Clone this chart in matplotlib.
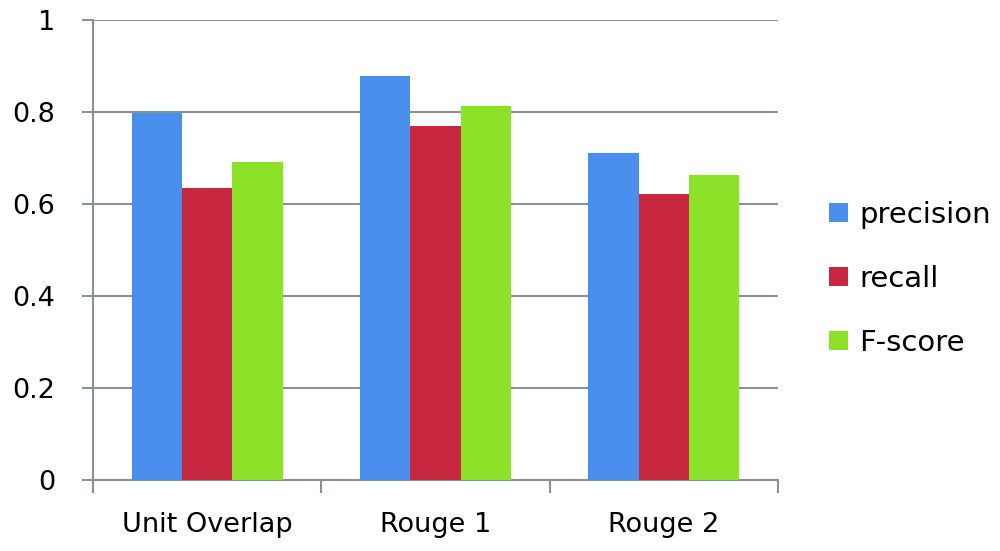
import matplotlib
matplotlib.use("Agg")
import matplotlib.pyplot as plt
import numpy as np
from matplotlib.patches import Patch

categories = ["Unit Overlap", "Rouge 1", "Rouge 2"]
series_names = ["precision", "recall", "F-score"]
precision = [0.798, 0.877, 0.710]
recall = [0.634, 0.770, 0.622]
fscore = [0.692, 0.812, 0.663]
yticks = [0, 0.2, 0.4, 0.6, 0.8, 1]
ytick_labels = ["0", "0.2", "0.4", "0.6", "0.8", "1"]

colors = ["#4A8FEE", "#C8283F", "#8CE228"]
grid_color = "#8A9393"

plt.rcParams['font.family'] = ['DejaVu Sans']

fig = plt.figure(figsize=(10, 5.51), dpi=100)
ax = fig.add_axes([0.093, 0.129, 0.685, 0.835])

x = np.arange(len(categories))
w = 0.22
for i, vals in enumerate([precision, recall, fscore]):
    ax.bar(x + (i - 1) * w, vals, width=w, color=colors[i], zorder=3, label=series_names[i])

ax.set_xlim(-0.5, len(categories) - 0.5)
ax.set_ylim(0, 1)
ax.set_yticks(yticks)
ax.set_yticklabels(ytick_labels, fontsize=19.5)
ax.yaxis.grid(True, color=grid_color, linewidth=1.5, zorder=0)
ax.set_axisbelow(True)

# category labels at centers, tick marks at boundaries
ax.set_xticks(x)
ax.set_xticklabels(categories, fontsize=19.5)
ax.tick_params(axis='x', length=0, pad=23)
ax.set_xticks(np.arange(-0.5, len(categories) + 0.5, 1), minor=True)
ax.tick_params(axis='x', which='minor', length=9, width=1.5, color=grid_color)
ax.tick_params(axis='y', length=8, width=1.5, color=grid_color, pad=19)

for s in ['top', 'right']:
    ax.spines[s].set_visible(False)
ax.spines['left'].set_color(grid_color)
ax.spines['left'].set_linewidth(1.5)
ax.spines['bottom'].set_color(grid_color)
ax.spines['bottom'].set_linewidth(1.5)

handles = [Patch(facecolor=c) for c in colors]
fig.legend(handles, series_names, loc='center left', bbox_to_anchor=(0.803, 0.494),
           frameon=False, fontsize=21, handlelength=0.65, handleheight=0.65,
           handletextpad=0.38, labelspacing=1.23)

fig.savefig("out.png", dpi=100)
